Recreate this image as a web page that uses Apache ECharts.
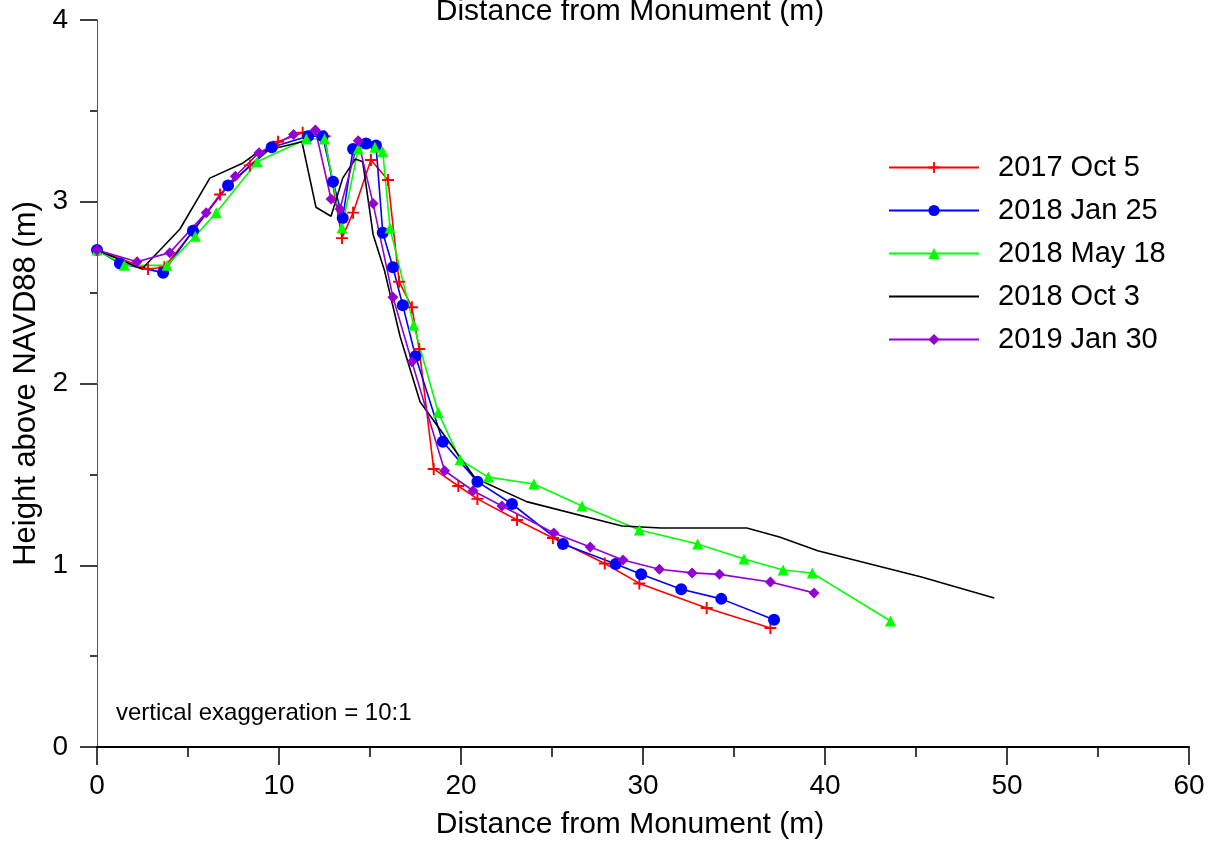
<!DOCTYPE html>
<html>
<head>
<meta charset="utf-8">
<script src="https://cdn.jsdelivr.net/npm/echarts@6/dist/echarts.min.js"></script>
<style>
  html, body { margin: 0; padding: 0; background: #fff; }
  #profile { width: 1221px; height: 843px; }
</style>
</head>
<body>
<div id="profile"></div>
<script>
// beach profiles, [distance (m), height (m)]
var seriesNames = ['2017 Oct 5', '2018 Jan 25', '2018 May 18', '2018 Oct 3', '2019 Jan 30'];

var oct2017 = [[0, 2.735], [2.8, 2.63], [3.7, 2.64], [5.3, 2.84], [6.76, 3.04], [8.4, 3.2], [9.95, 3.33], [11.3, 3.38],
  [12.5, 3.36], [13.46, 2.80], [14.07, 2.94], [15.05, 3.23], [15.99, 3.12], [16.6, 2.56], [17.3, 2.42], [17.7, 2.19],
  [18.5, 1.53], [19.85, 1.436], [20.9, 1.365], [23.08, 1.249], [25.05, 1.15], [27.9, 1.01], [29.8, 0.90],
  [33.5, 0.765], [37.0, 0.655]];

var jan2018 = [[0, 2.735], [1.26, 2.66], [3.63, 2.61], [5.27, 2.84], [7.2, 3.09], [9.6, 3.30], [11.6, 3.36], [12.4, 3.36],
  [12.97, 3.11], [13.5, 2.91], [14.07, 3.29], [14.78, 3.32], [15.33, 3.31], [15.7, 2.83], [16.26, 2.64], [16.8, 2.43],
  [17.5, 2.15], [19.0, 1.68], [20.9, 1.46], [22.8, 1.337], [25.6, 1.117], [28.5, 1.007], [29.9, 0.95], [32.1, 0.868],
  [34.3, 0.815], [37.2, 0.70]];

var may2018 = [[0, 2.735], [1.5, 2.65], [3.85, 2.65], [5.4, 2.81], [6.55, 2.94], [8.8, 3.22], [11.5, 3.345], [12.5, 3.345],
  [13.46, 2.855], [14.35, 3.29], [15.27, 3.30], [15.7, 3.275], [16.1, 2.855], [17.4, 2.32], [18.75, 1.84], [19.95, 1.58],
  [21.5, 1.485], [24.0, 1.447], [26.65, 1.326], [29.8, 1.194], [33.0, 1.117], [35.55, 1.034], [37.7, 0.974],
  [39.3, 0.957], [43.6, 0.693]];

var oct2018 = [[0, 2.735], [2.47, 2.63], [4.56, 2.85], [6.2, 3.13], [7.97, 3.21], [8.8, 3.27], [11.26, 3.33], [12.03, 2.97],
  [12.86, 2.92], [13.5, 3.13], [14.2, 3.235], [14.6, 3.22], [15.17, 2.82], [15.8, 2.62], [16.65, 2.26], [17.75, 1.90],
  [20.77, 1.48], [23.6, 1.35], [28.85, 1.216], [31.0, 1.205], [35.7, 1.205], [37.5, 1.155], [39.6, 1.08],
  [45.3, 0.935], [49.3, 0.82]];

var jan2019 = [[0, 2.735], [2.2, 2.67], [4.0, 2.72], [6.0, 2.94], [7.6, 3.14], [8.9, 3.27], [10.8, 3.37], [12.0, 3.395],
  [12.86, 3.015], [13.35, 2.96], [14.35, 3.335], [15.17, 2.99], [16.26, 2.475], [17.3, 2.12], [19.1, 1.52], [20.66, 1.41],
  [22.25, 1.326], [25.1, 1.177], [27.1, 1.10], [28.9, 1.029], [30.9, 0.978], [32.7, 0.958], [34.2, 0.95],
  [37.0, 0.908], [39.4, 0.848]];

var xTicks = [0, 10, 20, 30, 40, 50, 60];
var yTicks = [0, 1, 2, 3, 4];

var colors = ['#FF0000', '#0000FF', '#00FF00', '#000000', '#9400D3'];
var plusPath = 'path://M-1.6,-10H1.6V-1.6H10V1.6H1.6V10H-1.6V1.6H-10V-1.6H-1.6Z';
var font = 'Liberation Sans, Arial, sans-serif';

var chart = echarts.init(document.getElementById('profile'));

function profileSeries(idx, data, symbol, size) {
    return {
        name: seriesNames[idx],
        type: 'line',
        data: data,
        symbol: symbol,
        symbolSize: size,
        showSymbol: symbol !== 'none',
        lineStyle: { color: colors[idx], width: 1.6 },
        itemStyle: { color: colors[idx] },
        animation: false
    };
}

// no marker on the legend entry of the unmarked profile
var legendItems = seriesNames.map(function (n, i) {
    return i === 3 ? { name: n, itemStyle: { opacity: 0 } } : { name: n };
});

var option = {
    backgroundColor: '#fff',
    textStyle: { fontFamily: font },
    grid: { left: 97, right: 32, top: 20, bottom: 96, containLabel: false, outerBoundsMode: 'none' },
    legend: {
        orient: 'vertical',
        left: 888,
        top: 153,
        padding: 0,
        itemWidth: 90,
        itemHeight: 14,
        itemGap: 14,
        textStyle: { fontSize: 29, color: '#000', padding: [0, 0, 0, 14], lineHeight: 29 },
        data: legendItems
    },
    xAxis: [
        {
            type: 'value',
            min: xTicks[0],
            max: xTicks[xTicks.length - 1],
            interval: 10,
            name: 'Distance from Monument (m)',
            nameLocation: 'middle',
            nameGap: 63,
            nameTextStyle: { fontSize: 30, color: '#000', padding: [0, 26, 0, 0] },
            axisLine: { onZero: false, lineStyle: { color: '#000', width: 2 } },
            axisTick: { length: 18, lineStyle: { color: '#000', width: 1.5 } },
            minorTick: { show: true, splitNumber: 2, length: 10, lineStyle: { color: '#000', width: 1.5 } },
            axisLabel: { fontSize: 28, color: '#000', margin: 25 },
            splitLine: { show: false }
        },
        {
            type: 'value',
            position: 'top',
            min: xTicks[0],
            max: xTicks[xTicks.length - 1],
            name: 'Distance from Monument (m)',
            nameLocation: 'middle',
            nameGap: -7,
            nameTextStyle: { fontSize: 30, color: '#000', padding: [0, 26, 0, 0] },
            axisLine: { show: false },
            axisTick: { show: false },
            axisLabel: { show: false },
            splitLine: { show: false }
        }
    ],
    yAxis: {
        type: 'value',
        min: yTicks[0],
        max: yTicks[yTicks.length - 1],
        interval: 1,
        name: 'Height above NAVD88 (m)',
        nameLocation: 'middle',
        nameGap: 53,
        nameTextStyle: { fontSize: 31, color: '#000' },
        axisLine: { show: true, onZero: false, lineStyle: { color: '#555', width: 1 } },
        axisTick: { show: true, length: 17, lineStyle: { color: '#000', width: 1.5 } },
        minorTick: { show: true, splitNumber: 2, length: 7, lineStyle: { color: '#000', width: 1.5 } },
        axisLabel: { fontSize: 28, color: '#000', margin: 29 },
        splitLine: { show: false }
    },
    graphic: [
        {
            type: 'text',
            left: 116,
            top: 701,
            style: { text: 'vertical exaggeration = 10:1', fontSize: 24, fill: '#000', fontFamily: font }
        }
    ],
    series: [
        profileSeries(0, oct2017, plusPath, 12),
        profileSeries(1, jan2018, 'circle', 12),
        profileSeries(2, may2018, 'triangle', 11),
        profileSeries(3, oct2018, 'none', 0),
        profileSeries(4, jan2019, 'diamond', 11)
    ]
};

chart.setOption(option);
window.addEventListener('resize', function () {
    chart.resize();
});
</script>
</body>
</html>
